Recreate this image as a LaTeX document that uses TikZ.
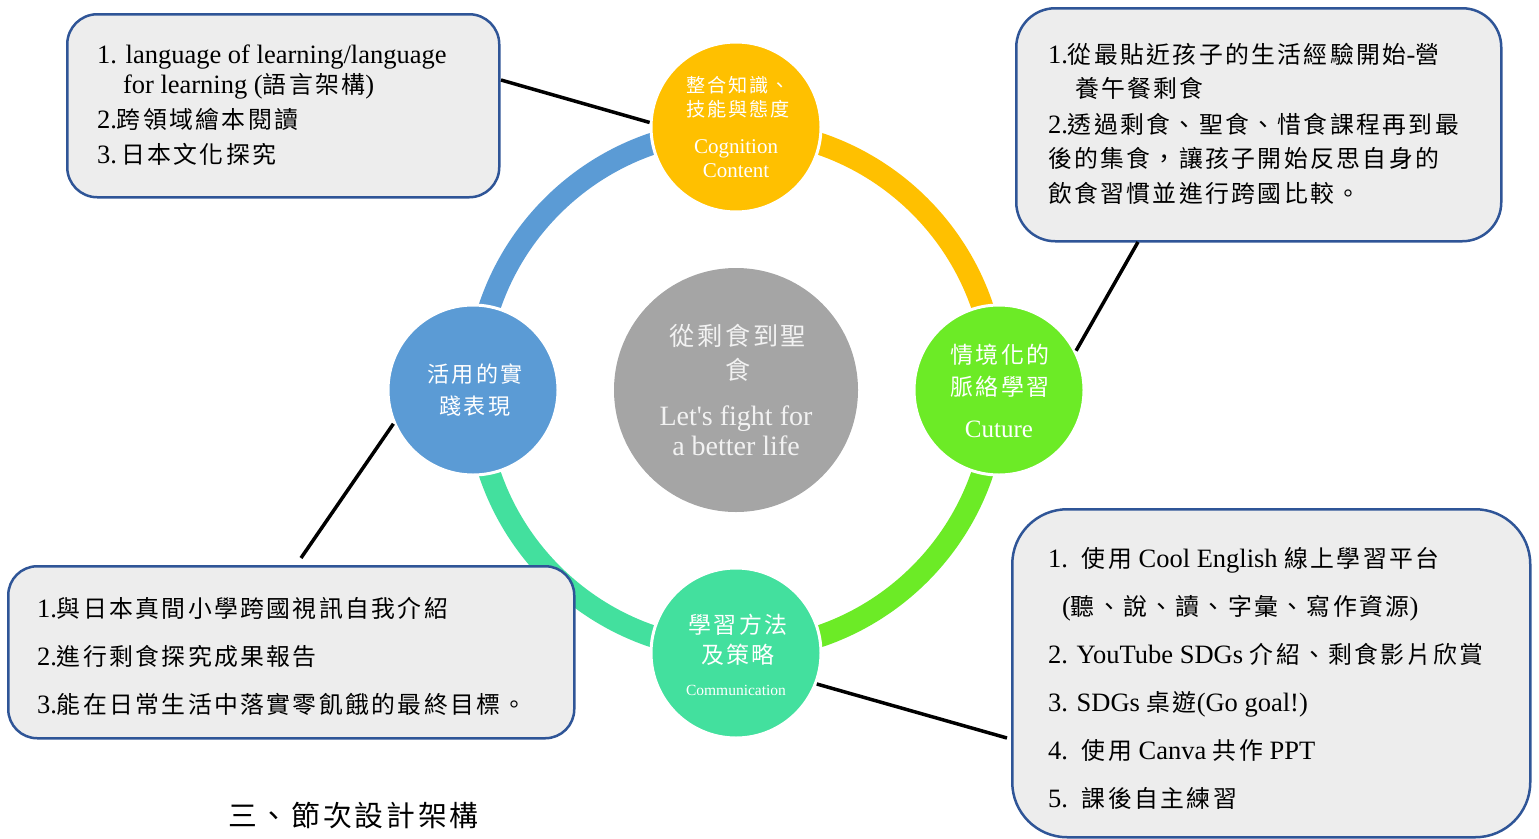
\documentclass[tikz,border=0pt]{standalone}
\usepackage{fontspec}
\setmainfont{Liberation Serif}
\newfontfamily\rawserif{Liberation Serif}
\newfontfamily\cjk{Noto Sans CJK TC}[Scale=0.9, LetterSpace=10]
\newcommand\zh[1]{{\cjk #1}}
\definecolor{cyel}{HTML}{FFC000}
\definecolor{cgrn}{HTML}{6CEB26}
\definecolor{cteal}{HTML}{43E09E}
\definecolor{cblue}{HTML}{5B9BD5}
\definecolor{cgray}{HTML}{A5A5A5}
\definecolor{boxfill}{HTML}{EDEDED}
\definecolor{boxline}{HTML}{2F5597}
\definecolor{ctxt}{HTML}{F2F2F2}
\begin{document}
\begin{tikzpicture}[x=1pt,y=-1pt,
  ring/.style={line width=22pt},
  sat/.style={circle, draw=white, line width=3pt, minimum size=170pt, inner sep=0pt},
  infobox/.style={draw=boxline, fill=boxfill, line width=2.5pt, anchor=north west, inner sep=0pt},
  txt/.style={anchor=base west, inner sep=0pt, outer sep=0pt, font=\fontsize{26.5}{30}\selectfont},
  wtxt/.style={anchor=base, inner sep=0pt, outer sep=0pt, text=white},
  conn/.style={line width=3.5pt, black}]
\useasboundingbox (0,0) rectangle (1539,838);

% ring arcs
\draw[ring, cblue] ([shift={(736,390)}]180:260pt) arc[start angle=180, end angle=90, radius=260pt];
\draw[ring, cyel] ([shift={(736,390)}]90:260pt) arc[start angle=90, end angle=0, radius=260pt];
\draw[ring, cgrn] ([shift={(736,390)}]0:260pt) arc[start angle=0, end angle=-90, radius=260pt];
\draw[ring, cteal] ([shift={(736,390)}]-90:260pt) arc[start angle=-90, end angle=-180, radius=260pt];

% satellites and centre
\node[sat, fill=cyel] (ntop) at (736,127) {};
\node[sat, fill=cgrn] (nright) at (999,390) {};
\node[sat, fill=cteal] (nbot) at (736,653) {};
\node[sat, fill=cblue] (nleft) at (473,390) {};
\node[circle, fill=cgray, minimum size=244pt, inner sep=0pt] (ncenter) at (736,390) {};

% satellite texts
\node[wtxt, font=\fontsize{21.3}{24}\selectfont] (tt1) at (738,92) {\zh{整合知識、}};
\node[wtxt, font=\fontsize{21.3}{24}\selectfont] (tt2) at (738,116) {\zh{技能與態度}};
\node[wtxt, font=\fontsize{21}{24}\selectfont] (tt3) at (736,153) {Cognition};
\node[wtxt, font=\fontsize{21}{24}\selectfont] (tt4) at (736,177) {Content};

\node[wtxt, font=\fontsize{25.5}{28}\selectfont] (rt1) at (1000,363) {\zh{情境化的}};
\node[wtxt, font=\fontsize{25.5}{28}\selectfont] (rt2) at (1000,395) {\zh{脈絡學習}};
\node[wtxt, font=\fontsize{25}{28}\selectfont] (rt3) at (999,437) {Cuture};

\node[wtxt, font=\fontsize{25.5}{28}\selectfont] (bt1) at (738,633) {\zh{學習方法}};
\node[wtxt, font=\fontsize{25.5}{28}\selectfont] (bt2) at (738,663) {\zh{及策略}};
\node[wtxt, font=\fontsize{15.5}{18}\selectfont] (bt3) at (736,695) {Communication};

\node[wtxt, font=\fontsize{24.5}{28}\selectfont] (lt1) at (475,382) {\zh{活用的實}};
\node[wtxt, font=\fontsize{24.5}{28}\selectfont] (lt2) at (475,414) {\zh{踐表現}};

\node[wtxt, text=ctxt, font=\fontsize{28}{30}\selectfont] (ct1) at (738,345) {\zh{從剩食到聖}};
\node[wtxt, text=ctxt, font=\fontsize{28}{30}\selectfont] (ct2) at (738,379) {\zh{食}};
\node[wtxt, text=ctxt, font=\fontsize{28}{32}\selectfont] (ct3) at (736,425) {\rawserif Let's fight for};
\node[wtxt, text=ctxt, font=\fontsize{28}{32}\selectfont] (ct4) at (736,455) {a better life};

% boxes
\node[infobox, minimum width=432pt, minimum height=183pt, rounded corners=30pt] (boxTL) at (66,13) {};
\node[infobox, minimum width=485pt, minimum height=233pt, rounded corners=39pt] (boxTR) at (1015,7) {};
\node[infobox, minimum width=566pt, minimum height=172pt, rounded corners=29pt] (boxBL) at (7,565) {};
\node[infobox, minimum width=518pt, minimum height=328pt, rounded corners=55pt] (boxBR) at (1011,508) {};

% box texts
\node[txt] (a1) at (97,63) {1. language of learning/language};
\node[txt] (a2) at (123,93) {for learning (\zh{語言架構})};
\node[txt] (a3) at (97,128) {2.\zh{跨領域繪本閱讀}};
\node[txt] (a4) at (97,163) {3.\,\zh{日本文化探究}};

\node[txt] (b1) at (1048,63) {1.\zh{從最貼近孩子的生活經驗開始}-\zh{營}};
\node[txt] (b2) at (1075,97) {\zh{養午餐剩食}};
\node[txt] (b3) at (1048,133) {2.\zh{透過剩食、聖食、惜食課程再到最}};
\node[txt] (b4) at (1048,167) {\zh{後的集食，讓孩子開始反思自身的}};
\node[txt] (b5) at (1048,202) {\zh{飲食習慣並進行跨國比較。}};

\node[txt] (c1) at (37,617) {1.\zh{與日本真間小學跨國視訊自我介紹}};
\node[txt] (c2) at (37,665) {2.\zh{進行剩食探究成果報告}};
\node[txt] (c3) at (37,713) {3.\zh{能在日常生活中落實零飢餓的最終目標。}};

\node[txt] (d1) at (1048,567) {1.\hspace{14pt}\zh{使用} Cool English \zh{線上學習平台}};
\node[txt] (d2) at (1062,615) {(\zh{聽、說、讀、字彙、寫作資源})};
\node[txt] (d3) at (1048,663) {2. YouTube SDGs \zh{介紹、剩食影片欣賞}};
\node[txt] (d4) at (1048,711) {3. SDGs \zh{桌遊}(Go goal!)};
\node[txt] (d5) at (1048,759) {4.\hspace{14pt}\zh{使用} Canva \zh{共作} PPT};
\node[txt] (d6) at (1048,807) {5.\hspace{14pt}\zh{課後自主練習}};

% title
\node[txt, font=\fontsize{32}{36}\selectfont] (title) at (228,826) {\zh{三、節次設計架構}};

% connectors
\coordinate (p1) at (501,80);
\coordinate (p2) at (1138,242);
\coordinate (p3) at (301,558);
\coordinate (p4) at (1007,738);
\draw[conn] (p1) -- (ntop.177);
\draw[conn] (p2) -- (nright.27);
\draw[conn] (p3) -- (nleft.203);
\draw[conn] (p4) -- (nbot.-21);
\end{tikzpicture}
\end{document}
